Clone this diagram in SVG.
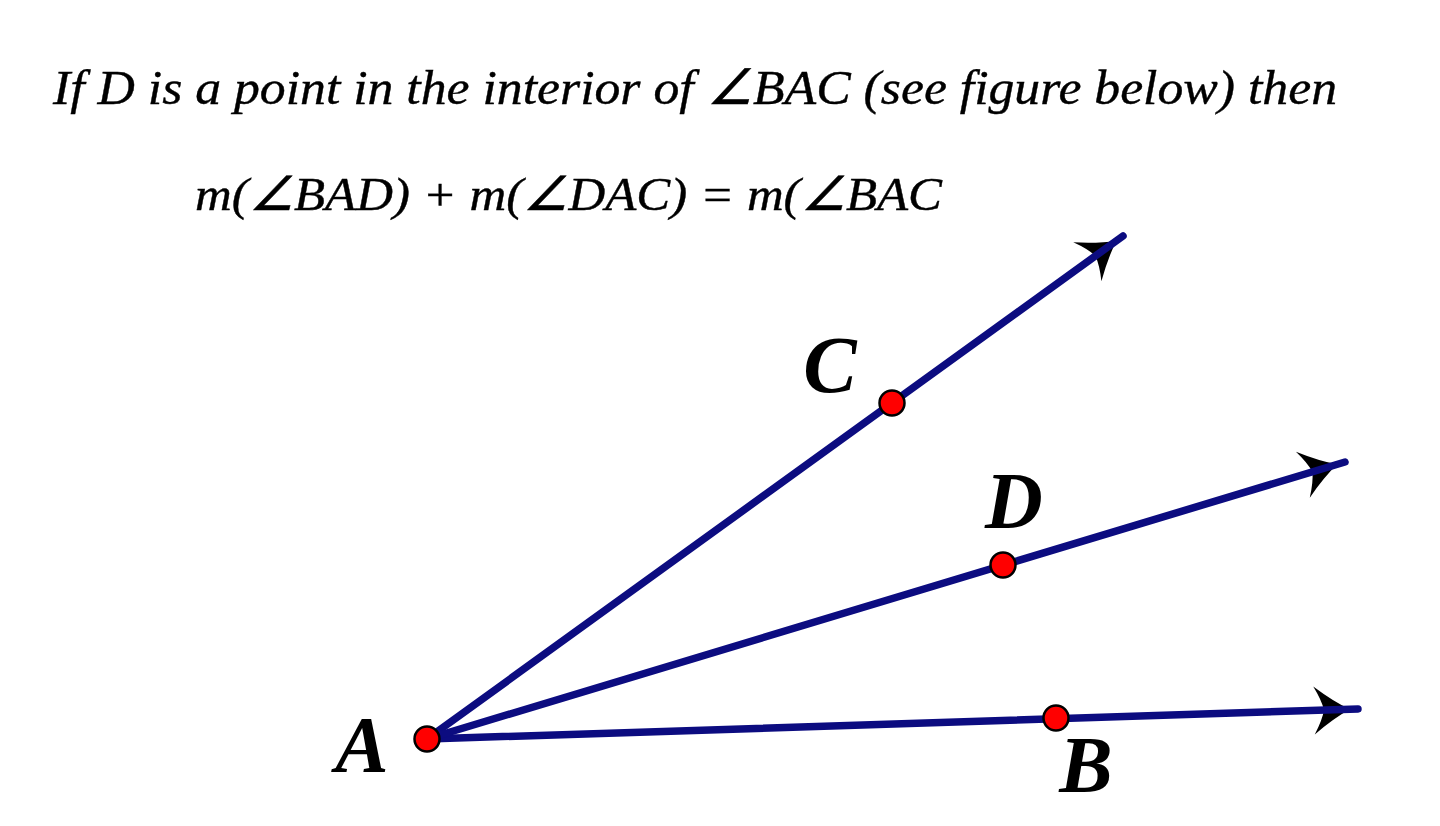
<svg xmlns="http://www.w3.org/2000/svg" xmlns:xlink="http://www.w3.org/1999/xlink" width="1440" height="826" viewBox="0 0 1440 826">
<style>
.txt{font-family:"Liberation Serif","Times New Roman",serif;font-style:italic;fill:#000;stroke:#000;stroke-width:0.4}
.lbl{font-family:"Liberation Serif","Times New Roman",serif;font-style:italic;font-weight:bold;font-size:80px;fill:#000;text-anchor:middle}
.ray{stroke:#0c0c80;stroke-width:7.5;stroke-linecap:round;fill:none}
.pt{fill:#ff0000;stroke:#000;stroke-width:2.5}
</style>
<defs>
<path id="ah" d="M2,0 Q-14,-8 -34,-24 Q-26,-10 -24,0 Q-26,10 -34,24 Q-14,8 2,0 Z" fill="#000"/>
</defs>
<rect width="1440" height="826" fill="#fff"/>
<g id="statement">
<text class="txt" x="53" y="104" font-size="49" textLength="1284" lengthAdjust="spacingAndGlyphs">If D is a point in the interior of ∠BAC (see figure below) then</text>
<text class="txt" x="195" y="210" font-size="47" textLength="747" lengthAdjust="spacingAndGlyphs">m(∠BAD) + m(∠DAC) = m(∠BAC</text>
</g>
<g id="connectors">
<use xlink:href="#ah" transform="translate(1348,709.3) rotate(-1.85)"/>
<use xlink:href="#ah" transform="translate(1114.9,241.9) rotate(-35.86)"/>
<use xlink:href="#ah" transform="translate(1335.4,464.9) rotate(-16.79)"/>
<line id="ray-AB" class="ray" x1="427" y1="739" x2="1358" y2="709"/>
<line id="ray-AC" class="ray" x1="427" y1="739" x2="1123" y2="236"/>
<line id="ray-AD" class="ray" x1="427" y1="739" x2="1345" y2="462"/>
</g>
<g id="node-A">
<circle class="pt" cx="427" cy="739" r="12.5"/>
<text class="lbl" x="362" y="772">A</text>
</g>
<g id="node-B">
<circle class="pt" cx="1056" cy="718" r="12.5"/>
<text class="lbl" x="1086" y="792">B</text>
</g>
<g id="node-C">
<circle class="pt" cx="892" cy="403" r="12.5"/>
<text class="lbl" x="830" y="392">C</text>
</g>
<g id="node-D">
<circle class="pt" cx="1003" cy="565" r="12.5"/>
<text class="lbl" x="1014" y="528">D</text>
</g>
</svg>
